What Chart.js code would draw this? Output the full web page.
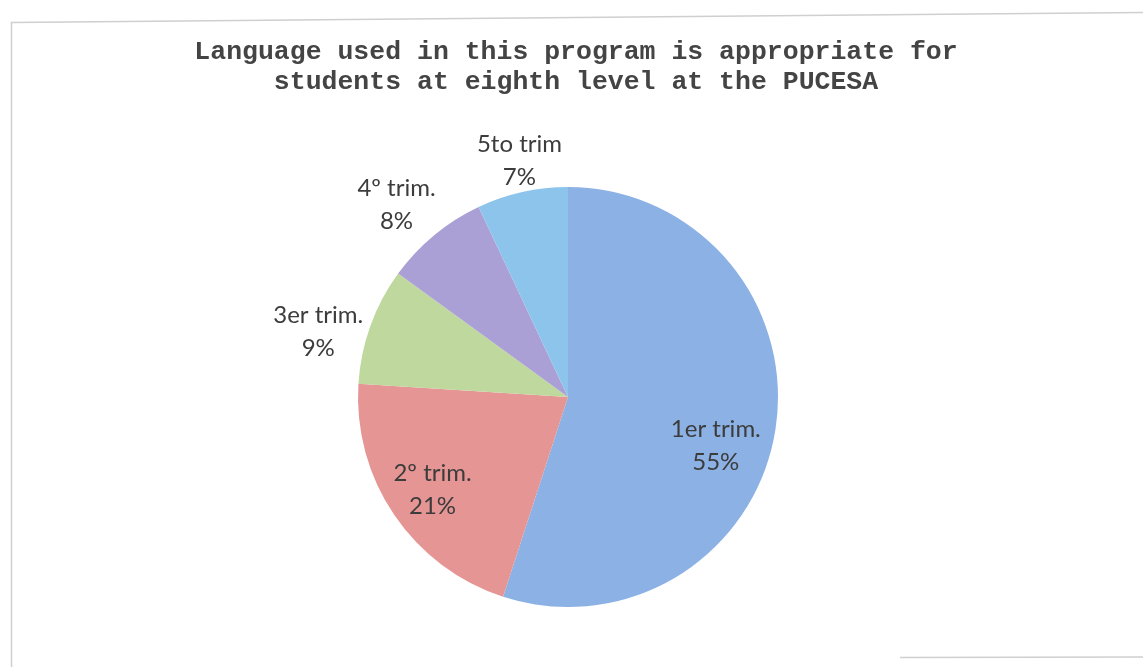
<!DOCTYPE html>
<html>
<head>
<meta charset="utf-8">
<script src="https://cdn.jsdelivr.net/npm/chart.js@4.4.1/dist/chart.umd.min.js"></script>
<style>
  html, body { margin: 0; padding: 0; background: #fff; }
  #wrap { width: 1143px; height: 668px; position: relative; }
</style>
</head>
<body>
<div id="wrap"><canvas id="pie"></canvas></div>
<script>
var titleLines = ['Language used in this program is appropriate for', 'students at eighth level at the PUCESA'];
var slices = ['1er trim.', '2\u00ba trim.', '3er trim.', '4\u00ba trim.', '5to trim'];
var percents = [55, 21, 9, 8, 7];
var sliceColors = ['#8cb1e4', '#e69595', '#bfd89e', '#aba0d6', '#8dc4ec'];

// where each label sits: fraction of the radius, and a small turn off the slice middle (degrees)
var labelSpots = [[0.74, 9], [0.78, 0], [1.23, -5], [1.23, -2], [1.15, 1]];

// thin frame round the whole chart, a touch crooked like a scanned page
var framePlugin = {
  id: 'frame',
  beforeDraw: function(c) {
    var g = c.ctx;
    g.save();
    g.strokeStyle = '#cfcfcf';
    g.lineWidth = 1.5;
    g.beginPath();
    g.moveTo(11.5, 667);
    g.lineTo(11.5, 22.5);
    g.lineTo(1143, 12.5);
    g.moveTo(900, 657.5);
    g.lineTo(1143, 657);
    g.stroke();
    g.restore();
  }
};

// two-line heading in a typewriter face, wider than the pie area
var headingPlugin = {
  id: 'heading',
  afterDraw: function(c) {
    var g = c.ctx;
    g.save();
    g.fillStyle = '#444';
    g.font = 'bold 26.5px "Liberation Mono", "Courier New", monospace';
    g.textAlign = 'center';
    g.textBaseline = 'middle';
    titleLines.forEach(function(line, i) {
      g.fillText(line, 576, 52 + i * 30);
    });
    g.restore();
  }
};

var sliceLabels = {
  id: 'sliceLabels',
  afterDatasetsDraw: function(c) {
    var g = c.ctx;
    var arcs = c.getDatasetMeta(0).data;
    g.save();
    g.fillStyle = '#3c3c3c';
    g.font = '24px Lato, "Open Sans", sans-serif';
    g.textAlign = 'center';
    g.textBaseline = 'middle';
    arcs.forEach(function(arc, i) {
      var p = arc.getProps(['x', 'y', 'startAngle', 'endAngle', 'outerRadius'], true);
      var ang = (p.startAngle + p.endAngle) / 2 + labelSpots[i][1] * Math.PI / 180;
      var r = p.outerRadius * labelSpots[i][0];
      var lx = p.x + Math.cos(ang) * r;
      var ly = p.y + Math.sin(ang) * r;
      g.fillText(slices[i], lx, ly - 16);
      g.fillText(percents[i] + '%', lx, ly + 17);
    });
    g.restore();
  }
};

new Chart(document.getElementById('pie'), {
  type: 'pie',
  data: {
    labels: slices,
    datasets: [{
      data: percents,
      backgroundColor: sliceColors,
      borderWidth: 0
    }]
  },
  options: {
    responsive: true,
    maintainAspectRatio: false,
    animation: false,
    layout: { padding: { left: 358, right: 365, top: 187, bottom: 61 } },
    plugins: {
      legend: { display: false },
      tooltip: { enabled: false },
      title: { display: false }
    }
  },
  plugins: [framePlugin, headingPlugin, sliceLabels]
});
</script>
</body>
</html>
